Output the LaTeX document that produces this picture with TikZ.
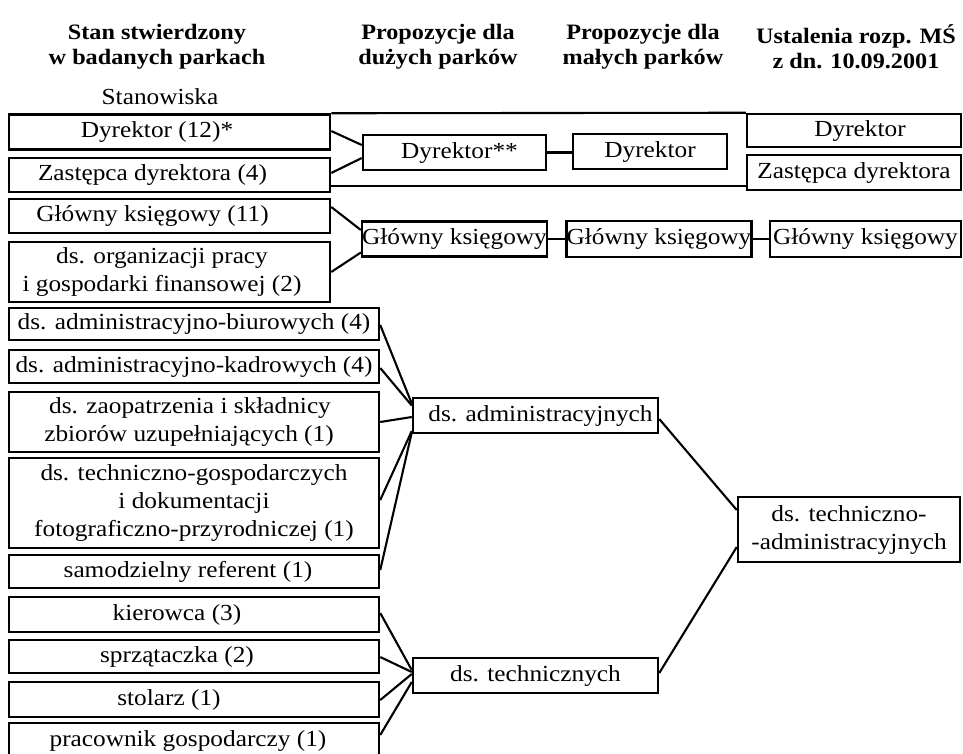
\documentclass[tikz,border=0pt]{standalone}
\usepackage{fontspec}
\setmainfont{Liberation Serif}[FakeStretch=1.1]
\usetikzlibrary{calc}
\newcommand{\padR}[1]{\hspace*{#1pt}}
\tikzset{
  boxnode/.style={draw, rectangle, inner sep=0pt, align=center, line width=2.5pt,
    font=\fontsize{23}{28}\selectfont},
  hdr/.style={align=center, inner sep=0pt, font=\fontsize{22}{25}\selectfont\bfseries},
  plain/.style={inner sep=0pt, font=\fontsize{23}{28}\selectfont},
  link/.style={line width=2.1pt}
}
\begin{document}
\begin{tikzpicture}[x=1pt,y=-1pt]
\useasboundingbox (0,0) rectangle (963,753);
\fill[white] (0,0) rectangle (963,753);
\clip (0,0) rectangle (963,753);

% headers
\node[hdr] (h1) at (157,47) {Stan stwierdzony\\w badanych parkach};
\node[hdr] (h2) at (438,47) {Propozycje dla\\dużych parków};
\node[hdr] (h3) at (643,47) {Propozycje dla\\małych parków};
\node[hdr] (h4) at (856,47) {Ustalenia rozp. MŚ\\z dn. 10.09.2001};
\node[plain, anchor=base] (st) at (160,104) {Stanowiska};

% left column
\node[boxnode, minimum width=321, minimum height=35] (L1) at (169.5,132) {Dyrektor (12)*\padR{25}};
\node[boxnode, minimum width=321, minimum height=34] (L2) at (169.5,175) {Zastępca dyrektora (4)\padR{34}};
\node[boxnode, minimum width=321, minimum height=34] (L3) at (169.5,216) {Główny księgowy (11)\padR{34}};
\node[boxnode, minimum width=321, minimum height=60] (L4) at (169.5,272) {ds. organizacji pracy\padR{15}\\i gospodarki finansowej (2)\padR{15}};
\node[boxnode, minimum width=370, minimum height=32] (L5) at (194,324) {ds. administracyjno-biurowych (4)};
\node[boxnode, minimum width=370, minimum height=33] (L6) at (194,366.5) {ds. administracyjno-kadrowych (4)};
\node[boxnode, minimum width=370, minimum height=60] (L7) at (194,422) {ds. zaopatrzenia i składnicy\padR{8}\\zbiorów uzupełniających (1)\padR{10}};
\node[boxnode, minimum width=370, minimum height=90] (L8) at (194,503) {ds. techniczno-gospodarczych\\i dokumentacji\\fotograficzno-przyrodniczej (1)};
\node[boxnode, minimum width=370, minimum height=33] (L9) at (194,571.5) {samodzielny referent (1)\padR{12}};
\node[boxnode, minimum width=370, minimum height=35] (L10) at (194,614.5) {kierowca (3)\padR{34}};
\node[boxnode, minimum width=370, minimum height=33] (L11) at (194,656.5) {sprzątaczka (2)\padR{34}};
\node[boxnode, minimum width=370, minimum height=35] (L12) at (194,699.5) {stolarz (1)\padR{50}};
\node[boxnode, minimum width=370, minimum height=36] (L13) at (194,741) {pracownik gospodarczy (1)\padR{12}};

% large parks
\node[boxnode, minimum width=183, minimum height=35] (M1) at (454.5,152.5) {\padR{10}Dyrektor**};
\node[boxnode, minimum width=183, minimum height=35] (M2) at (454.5,239) {Główny księgowy};
\node[boxnode, minimum width=245, minimum height=35] (M3) at (535.5,415.5) {\padR{10}ds. administracyjnych};
\node[boxnode, minimum width=245, minimum height=35] (M4) at (535.5,675.5) {ds. technicznych};

% small parks
\node[boxnode, minimum width=154, minimum height=35] (S1) at (650,151.5) {Dyrektor};
\node[boxnode, minimum width=182, minimum height=36] (S2) at (659,239) {Główny księgowy};

% regulation
\node[boxnode, minimum width=214, minimum height=33] (R1) at (854,130.5) {\padR{12}Dyrektor};
\node[boxnode, minimum width=214, minimum height=35] (R2) at (854,172.5) {Zastępca dyrektora};
\node[boxnode, minimum width=191, minimum height=36] (R3) at (865.5,239) {Główny księgowy};
\node[boxnode, minimum width=222, minimum height=65] (R4) at (849,529.5) {ds. techniczno-\\-administracyjnych};

% enclosing lines of the director group
\draw[link] (L1.north east) -- (R1.north west);
\draw[link] ($(L2.east)+(0,11)$) coordinate (b1) -- (b1 -| R2.west);

% director connectors
\draw[link] ($(L1.east)+(0,-1)$) -- ($(M1.west)+(0,-7.5)$);
\draw[link] ($(L2.east)+(0,-2)$) -- ($(M1.west)+(0,5.5)$);
\draw[link] (M1.east) -- (M1.east -| S1.west);

% accountant connectors
\draw[link] ($(L3.east)+(0,-9)$) -- ($(M2.west)+(0,-9)$);
\draw[link] ($(L4.east)+(0,0)$) -- ($(M2.west)+(0,13.5)$);
\draw[link] (M2.east) -- (M2.east -| S2.west);
\draw[link] (S2.east) -- (S2.east -| R3.west);

% administrative connectors
\draw[link] ($(L5.east)+(0,1)$) -- ($(M3.west)+(0,-12)$);
\draw[link] ($(L6.east)+(0,1.5)$) -- ($(M3.west)+(0,-10)$);
\draw[link] ($(L7.east)+(0,0)$) -- ($(M3.west)+(0,1.5)$);
\draw[link] ($(L8.east)+(0,-3)$) -- ($(M3.west)+(0,15.5)$);
\draw[link] ($(L9.east)+(0,-1.5)$) -- ($(M3.west)+(0,17)$);

% technical connectors
\draw[link] ($(L10.east)+(0,-1.5)$) -- ($(M4.west)+(0,-5.5)$);
\draw[link] ($(L11.east)+(0,0.5)$) -- ($(M4.west)+(0,-3.5)$);
\draw[link] ($(L12.east)+(0,0.5)$) -- ($(M4.west)+(0,-1.5)$);
\draw[link] ($(L13.east)+(0,-6)$) -- ($(M4.west)+(0,6.5)$);

% merge to techniczno-administracyjnych
\draw[link] ($(M3.east)+(0,3.5)$) -- ($(R4.west)+(0,-19.5)$);
\draw[link] ($(M4.east)+(0,-2.5)$) -- ($(R4.west)+(0,17.5)$);
\end{tikzpicture}
\end{document}
